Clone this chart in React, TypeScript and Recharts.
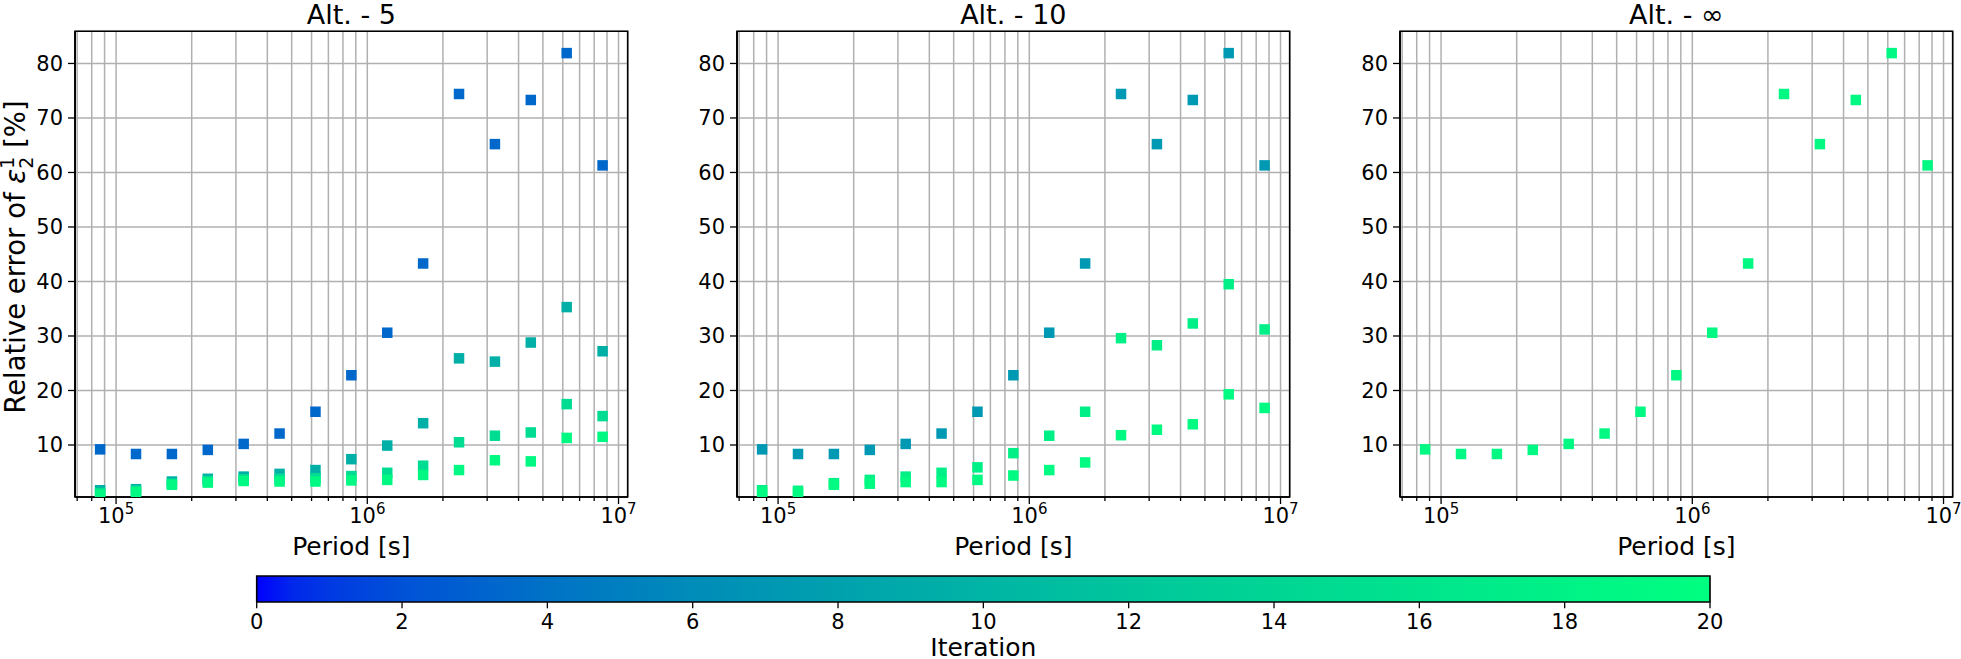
import React from 'react';
import {
  ScatterChart,
  Scatter,
  XAxis,
  YAxis,
  CartesianGrid,
  ReferenceArea,
  BarChart,
  Bar,
} from 'recharts';

// periods: 1 day .. 100 days, log spaced
const periodSeconds = [
  86400, 120054, 166813, 231785, 322064, 447510, 621814, 864000, 1200540, 1668130,
  2317850, 3220640, 4475090, 6218120, 8640000,
];

// relative error [%] at the start (same in all three runs)
const errStart = [9.2, 8.35, 8.35, 9.1, 10.2, 12.1, 16.1, 22.8, 30.6, 43.3, 74.4, 65.2, 73.3, 81.9, 61.3];

// Alt. - 5
const alt5Step1 = [1.7, 1.9, 3.3, 3.8, 4.2, 4.7, 5.4, 7.4, 9.9, 14.0, 25.9, 25.3, 28.8, 35.3, 27.2];
const alt5Step2 = [1.2, 1.6, 2.9, 3.4, 3.7, 3.8, 3.9, 4.3, 4.9, 6.2, 10.5, 11.7, 12.3, 17.5, 15.3];
const alt5Step3 = [0.9, 1.4, 2.7, 3.1, 3.4, 3.3, 3.3, 3.5, 3.6, 4.5, 5.4, 7.2, 7.0, 11.3, 11.5];

// Alt. - 10
const alt10Step1 = [1.7, 1.6, 3.0, 3.6, 4.2, 4.9, 5.9, 8.5, 11.7, 16.1, 29.6, 28.3, 32.3, 39.5, 31.2];
const alt10Step2 = [1.3, 1.3, 2.7, 2.9, 3.2, 3.2, 3.6, 4.4, 5.4, 6.8, 11.8, 12.8, 13.8, 19.3, 16.8];

const xTicks = [
  7e4, 8e4, 9e4, 1e5, 2e5, 3e5, 4e5, 5e5, 6e5, 7e5, 8e5, 9e5,
  1e6, 2e6, 3e6, 4e6, 5e6, 6e6, 7e6, 8e6, 9e6, 1e7,
];
const yTicks = [10, 20, 30, 40, 50, 60, 70, 80];
const iterationTicks = [0, 2, 4, 6, 8, 10, 12, 14, 16, 18, 20];
const colorbarData = [{ name: 'iter', v: 20 }];

// colour stops of the colour bar (winter map, square-root scaled)
const gradientStops = [
  { off: 0, c: '#0000ff' },
  { off: 2.5, c: '#0028eb' },
  { off: 5, c: '#0039e2' },
  { off: 10, c: '#0051d7' },
  { off: 20, c: '#0072c6' },
  { off: 30, c: '#008cb9' },
  { off: 40, c: '#00a1ae' },
  { off: 50, c: '#00b4a5' },
  { off: 60, c: '#00c69c' },
  { off: 70, c: '#00d594' },
  { off: 80, c: '#00e48d' },
  { off: 90, c: '#00f286' },
  { off: 100, c: '#00ff80' },
];

const toPoints = (vals: number[]) => periodSeconds.map((p, i) => ({ period: p, err: vals[i] }));

const panels = [
  {
    title: 'Alt. - 5',
    left: 75,
    series: [
      { vals: errStart, color: '#0068cb' },
      { vals: alt5Step1, color: '#00b0a7' },
      { vals: alt5Step2, color: '#00dc91' },
      { vals: alt5Step3, color: '#00f883' },
    ],
  },
  {
    title: 'Alt. - 10',
    left: 737,
    series: [
      { vals: errStart, color: '#0099b3' },
      { vals: alt10Step1, color: '#00f087' },
      { vals: alt10Step2, color: '#00fa82' },
    ],
  },
  {
    title: 'Alt. - \u221e',
    left: 1400,
    series: [{ vals: errStart, color: '#00f883' }],
  },
];

const PLOT_W = 552.7;
const PLOT_TOP = 31.3;
const PLOT_BOTTOM = 497;
const CHART_H = 570;
const YAXIS_W = 75;
const X_DOMAIN = [68630, 1.0876e7];
const Y_DOMAIN = [0.46, 85.9];

const SquareDot = (props: any) => {
  const { cx, cy, fill } = props;
  if (cx == null || cy == null) return null;
  return <rect x={cx - 5.25} y={cy - 5.25} width={10.5} height={10.5} fill={fill} />;
};

const LogTick = (props: any) => {
  const { x, y, payload } = props;
  const v = payload.value;
  const exp = Math.round(Math.log10(v));
  const major = Math.abs(v - Math.pow(10, exp)) < 1e-6 * v;
  return (
    <g>
      <line x1={x} x2={x} y1={y} y2={y + (major ? 7 : 4)} stroke="#000" strokeWidth={1.3} />
      {major && (
        <text x={x} y={y + 26.5} textAnchor="middle" fontSize={21} fill="#000">
          10
          <tspan dy={-9} fontSize={15}>
            {exp}
          </tspan>
        </text>
      )}
    </g>
  );
};

const PeriodLabel = (props: any) => {
  const vb = props.viewBox;
  return (
    <text x={vb.x + vb.width / 2} y={555} textAnchor="middle" fontSize={25} fill="#000">
      Period [s]
    </text>
  );
};

const ErrorLabel = () => {
  const cx = 25;
  const cy = 257;
  return (
    <text x={cx} y={cy} transform={`rotate(-90, ${cx}, ${cy})`} textAnchor="middle" fontSize={27.5} fill="#000">
      Relative error of{' '}
      <tspan fontStyle="italic">{'\u03b5'}</tspan>
      <tspan dy={-11} fontSize={19}>1</tspan>
      <tspan dx={-12} dy={19} fontSize={19}>2</tspan>
      <tspan dy={-8}> [%]</tspan>
    </text>
  );
};

const IterationLabel = (props: any) => {
  const vb = props.viewBox;
  return (
    <text x={vb.x + vb.width / 2} y={86} textAnchor="middle" fontSize={25} fill="#000">
      Iteration
    </text>
  );
};

const Panel = ({ panel, index }: { panel: any; index: number }) => {
  const chartLeft = panel.left - YAXIS_W;
  return (
    <>
      <div
        style={{
          position: 'absolute',
          left: panel.left,
          top: 1,
          width: PLOT_W,
          textAlign: 'center',
          fontSize: 27,
          lineHeight: '27px',
        }}
      >
        {panel.title}
      </div>
      <div style={{ position: 'absolute', left: chartLeft, top: 0 }}>
        <ScatterChart
          width={YAXIS_W + PLOT_W + 20}
          height={CHART_H}
          margin={{ top: PLOT_TOP, right: 20, bottom: 0, left: 0 }}
        >
          <CartesianGrid stroke="#b0b0b0" strokeWidth={1.5} />
          <XAxis
            type="number"
            dataKey="period"
            scale="log"
            domain={X_DOMAIN}
            allowDataOverflow
            ticks={xTicks}
            interval={0}
            tick={<LogTick />}
            tickSize={0}
            tickMargin={0}
            tickLine={false}
            axisLine={{ stroke: '#000', strokeWidth: 1.6 }}
            height={CHART_H - PLOT_BOTTOM}
            label={<PeriodLabel />}
          />
          <YAxis
            type="number"
            dataKey="err"
            domain={Y_DOMAIN}
            allowDataOverflow
            ticks={yTicks}
            interval={0}
            width={YAXIS_W}
            tick={{ fontSize: 21, fill: '#000' }}
            tickSize={7}
            tickMargin={5}
            tickLine={{ stroke: '#000', strokeWidth: 1.3 }}
            axisLine={{ stroke: '#000', strokeWidth: 1.6 }}
            label={index === 0 ? <ErrorLabel /> : undefined}
          />
          {panel.series.map((s: any, i: number) => (
            <Scatter
              key={i}
              data={toPoints(s.vals)}
              fill={s.color}
              shape={SquareDot}
              isAnimationActive={false}
            />
          ))}
          <ReferenceArea
            x1={X_DOMAIN[0]}
            x2={X_DOMAIN[1]}
            y1={Y_DOMAIN[0]}
            y2={Y_DOMAIN[1]}
            fill="none"
            fillOpacity={0}
            stroke="#000"
            strokeWidth={1.6}
            ifOverflow="visible"
          />
        </ScatterChart>
      </div>
    </>
  );
};

export default function App() {
  return (
    <div
      style={{
        position: 'absolute',
        left: 0,
        top: 0,
        width: 1961,
        height: 659,
        background: '#fff',
        fontFamily: '"DejaVu Sans", sans-serif',
        overflow: 'hidden',
      }}
    >
      {panels.map((p, i) => (
        <Panel key={i} panel={p} index={i} />
      ))}
      <div style={{ position: 'absolute', left: 200, top: 570 }}>
        <BarChart
          width={1570}
          height={89}
          layout="vertical"
          data={colorbarData}
          barCategoryGap={0}
          margin={{ top: 6, right: 60, bottom: 0, left: 56.7 }}
        >
          <defs>
            <linearGradient id="winterGrad" x1="0" y1="0" x2="1" y2="0">
              {gradientStops.map((s) => (
                <stop key={s.off} offset={`${s.off}%`} stopColor={s.c} />
              ))}
            </linearGradient>
          </defs>
          <XAxis
            type="number"
            domain={[0, 20]}
            ticks={iterationTicks}
            interval={0}
            height={56.7}
            tick={{ fontSize: 21, fill: '#000' }}
            tickSize={6}
            tickMargin={6}
            tickLine={{ stroke: '#000', strokeWidth: 1.3 }}
            axisLine={false}
            label={<IterationLabel />}
          />
          <YAxis type="category" dataKey="name" hide />
          <Bar dataKey="v" fill="url(#winterGrad)" stroke="#000" strokeWidth={1.6} isAnimationActive={false} />
        </BarChart>
      </div>
    </div>
  );
}
